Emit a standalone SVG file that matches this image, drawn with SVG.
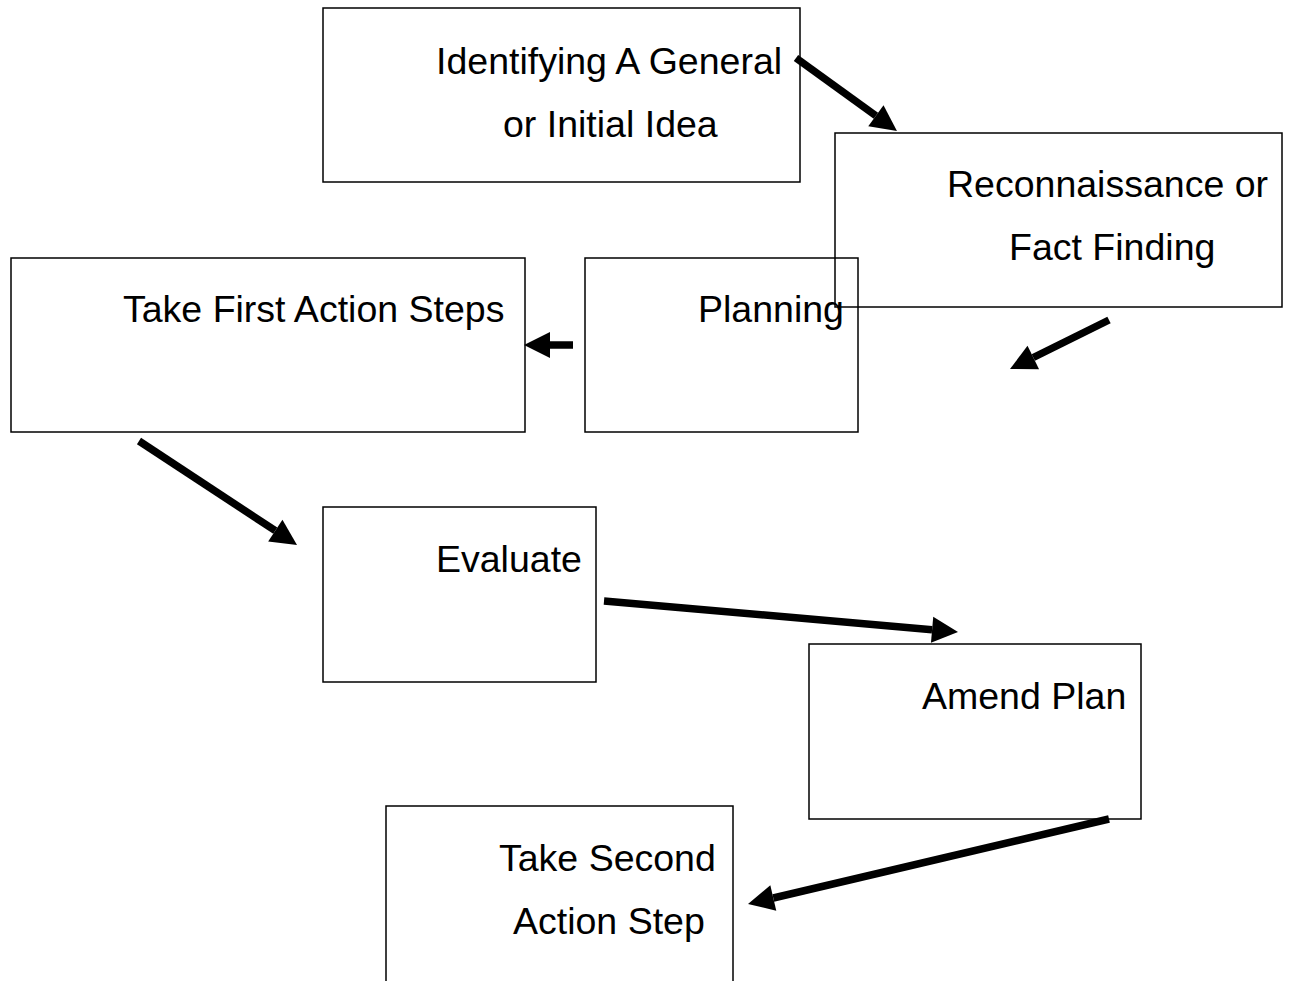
<svg xmlns="http://www.w3.org/2000/svg" width="1289" height="981" viewBox="0 0 1289 981">
  <style>
    .box { fill: none; stroke: #000; stroke-width: 1.5; }
    .lbl { font-family: "Liberation Sans", Arial, sans-serif; font-size: 37.5px; fill: #000; }
    .arr { stroke: #000; stroke-width: 7.5; fill: none; marker-end: url(#head); }
  </style>
  <defs>
    <!-- arrowhead drawn from its base; each shaft stops where the head begins -->
    <marker id="head" markerUnits="userSpaceOnUse" viewBox="0 0 26 26" refX="0" refY="13" markerWidth="26" markerHeight="26" orient="auto" overflow="visible">
      <path d="M0,0 L26,13 L0,26 Z" fill="#000"/>
    </marker>
  </defs>
  <rect width="1289" height="981" fill="#fff"/>

  <g id="node-idea">
    <rect class="box" x="323" y="8" width="477" height="174"/>
    <text class="lbl" x="436" y="74">Identifying A General</text>
    <text class="lbl" x="503" y="137">or Initial Idea</text>
  </g>
  <g id="node-recon">
    <rect class="box" x="835" y="133" width="447" height="174"/>
    <text class="lbl" x="947" y="197">Reconnaissance or</text>
    <text class="lbl" x="1009" y="260">Fact Finding</text>
  </g>
  <g id="node-first-action">
    <rect class="box" x="11" y="258" width="514" height="174"/>
    <text class="lbl" x="123" y="322">Take First Action Steps</text>
  </g>
  <g id="node-planning">
    <rect class="box" x="585" y="258" width="273" height="174"/>
    <text class="lbl" x="698" y="322">Planning</text>
  </g>
  <g id="node-evaluate">
    <rect class="box" x="323" y="507" width="273" height="175"/>
    <text class="lbl" x="436" y="572">Evaluate</text>
  </g>
  <g id="node-amend">
    <rect class="box" x="809" y="644" width="332" height="175"/>
    <text class="lbl" x="922" y="709">Amend Plan</text>
  </g>
  <g id="node-second-action">
    <rect class="box" x="386" y="806" width="347" height="180"/>
    <text class="lbl" x="499" y="871">Take Second</text>
    <text class="lbl" x="513" y="934">Action Step</text>
  </g>

  <g id="connectors">
    <line class="arr" x1="796" y1="58" x2="875.9" y2="115.8"/>
    <line class="arr" x1="1109" y1="320" x2="1033.3" y2="357.5"/>
    <line class="arr" x1="573" y1="345" x2="550" y2="345"/>
    <line class="arr" x1="139" y1="441" x2="275.3" y2="530.7"/>
    <line class="arr" x1="604" y1="601" x2="932.1" y2="629.7"/>
    <line class="arr" x1="1109" y1="819" x2="773.3" y2="898"/>
  </g>
</svg>
